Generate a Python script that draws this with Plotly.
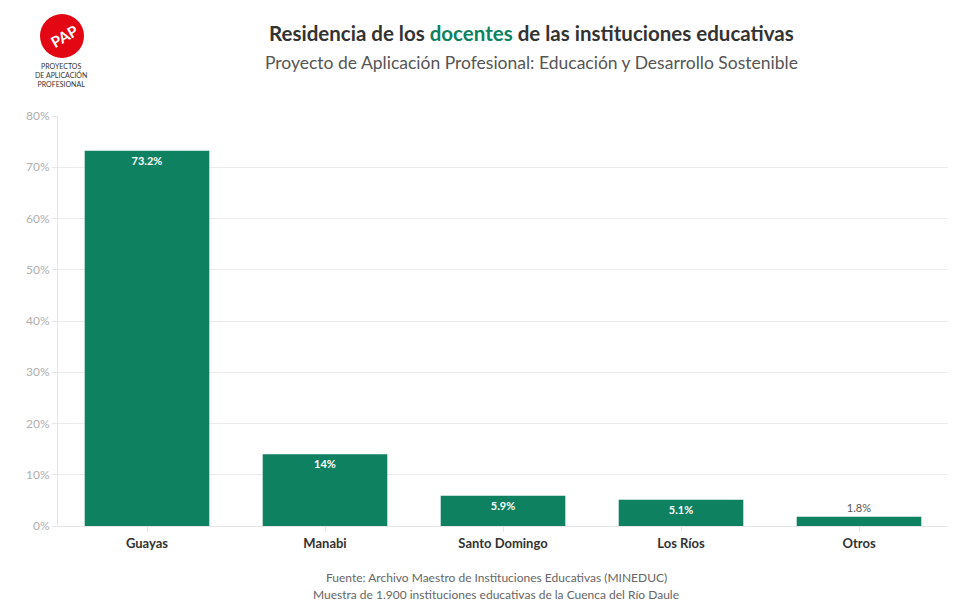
import plotly.graph_objects as go

categories = ["Guayas", "Manabi", "Santo Domingo", "Los Ríos", "Otros"]
values = [73.2, 14.0, 5.9, 5.1, 1.8]
labels = ["73.2%", "14%", "5.9%", "5.1%", "1.8%"]
tick_vals = [0, 10, 20, 30, 40, 50, 60, 70, 80]
tick_text = ["0%", "10%", "20%", "30%", "40%", "50%", "60%", "70%", "80%"]

GREEN = "#0e8160"
FONT = "Lato"

OFF = 8  # page body margin
W, H = 966 - OFF, 614 - OFF
L, R, T, B = 58 - OFF, 18, 116 - OFF, 88
pw = W - L - R
ph = H - T - B

def px(x):
    return (x - OFF - L) / pw

def py(y):
    return (H - B - (y - OFF)) / ph

positions = ["inside", "inside", "inside", "inside", "outside"]
text_colors = ["white", "white", "white", "white", "#555555"]

fig = go.Figure()
fig.add_trace(go.Bar(
    x=categories, y=values,
    text=[f"<b>{t}</b>" if p == "inside" else t for t, p in zip(labels, positions)],
    textposition=positions, insidetextanchor="end",
    textfont=dict(family=FONT, size=11, color=text_colors),
    marker=dict(color=GREEN, line=dict(width=0)),
    cliponaxis=False, hoverinfo="skip",
))

fig.update_layout(
    width=W, height=H,
    margin=dict(l=L, r=R, t=T, b=B, autoexpand=False),
    paper_bgcolor="white", plot_bgcolor="white",
    bargap=0.3, showlegend=False,
    font=dict(family=FONT),
)
fig.update_xaxes(
    showgrid=False, showline=True, linecolor="#e6e6e6", linewidth=1,
    ticks="outside", ticklen=5, tickcolor="#e6e6e6",
    tickfont=dict(family=FONT, size=13, color="#333333", weight="bold"),
)
fig.update_yaxes(
    range=[0, 80], tickvals=tick_vals, ticktext=tick_text,
    showgrid=True, gridcolor="#ebebeb", gridwidth=1,
    showline=True, linecolor="#e6e6e6", zeroline=False,
    ticks="outside", ticklen=5, tickcolor="#e6e6e6",
    tickfont=dict(family=FONT, size=12, color="#b0b0b0"),
)

annotations = [
    dict(x=px(531), y=py(33), xref="paper", yref="paper", showarrow=False,
         text="<b>Residencia de los <span style='color:#0e8160'>docentes</span> de las instituciones educativas</b>",
         font=dict(family=FONT, size=20.5, color="#333333"), xanchor="center", yanchor="middle"),
    dict(x=px(531), y=py(62), xref="paper", yref="paper", showarrow=False,
         text="Proyecto de Aplicación Profesional: Educación y Desarrollo Sostenible",
         font=dict(family=FONT, size=17.5, color="#555555"), xanchor="center", yanchor="middle"),
    dict(x=px(496), y=py(577), xref="paper", yref="paper", showarrow=False,
         text="Fuente: Archivo Maestro de Instituciones Educativas (MINEDUC)",
         font=dict(family=FONT, size=12, color="#666666"), xanchor="center", yanchor="middle"),
    dict(x=px(496), y=py(594), xref="paper", yref="paper", showarrow=False,
         text="Muestra de 1.900 instituciones educativas de la Cuenca del Río Daule",
         font=dict(family=FONT, size=12, color="#666666"), xanchor="center", yanchor="middle"),
    dict(x=px(64), y=py(36), xref="paper", yref="paper", showarrow=False,
         text="<b>PAP</b>", textangle=-30,
         font=dict(family=FONT, size=15, color="white"), xanchor="center", yanchor="middle"),
    dict(x=px(61), y=py(75), xref="paper", yref="paper", showarrow=False,
         text="PROYECTOS<br>DE APLICACIÓN<br>PROFESIONAL",
         font=dict(family=FONT, size=7, color="#333333"), xanchor="center", yanchor="middle",
         align="center"),
]
fig.update_layout(annotations=annotations)

fig.add_shape(type="circle", xref="paper", yref="paper",
              x0=px(40), x1=px(84), y0=py(58), y1=py(14),
              fillcolor="#e30613", line=dict(width=0), layer="below")

fig.write_html("out.html")
